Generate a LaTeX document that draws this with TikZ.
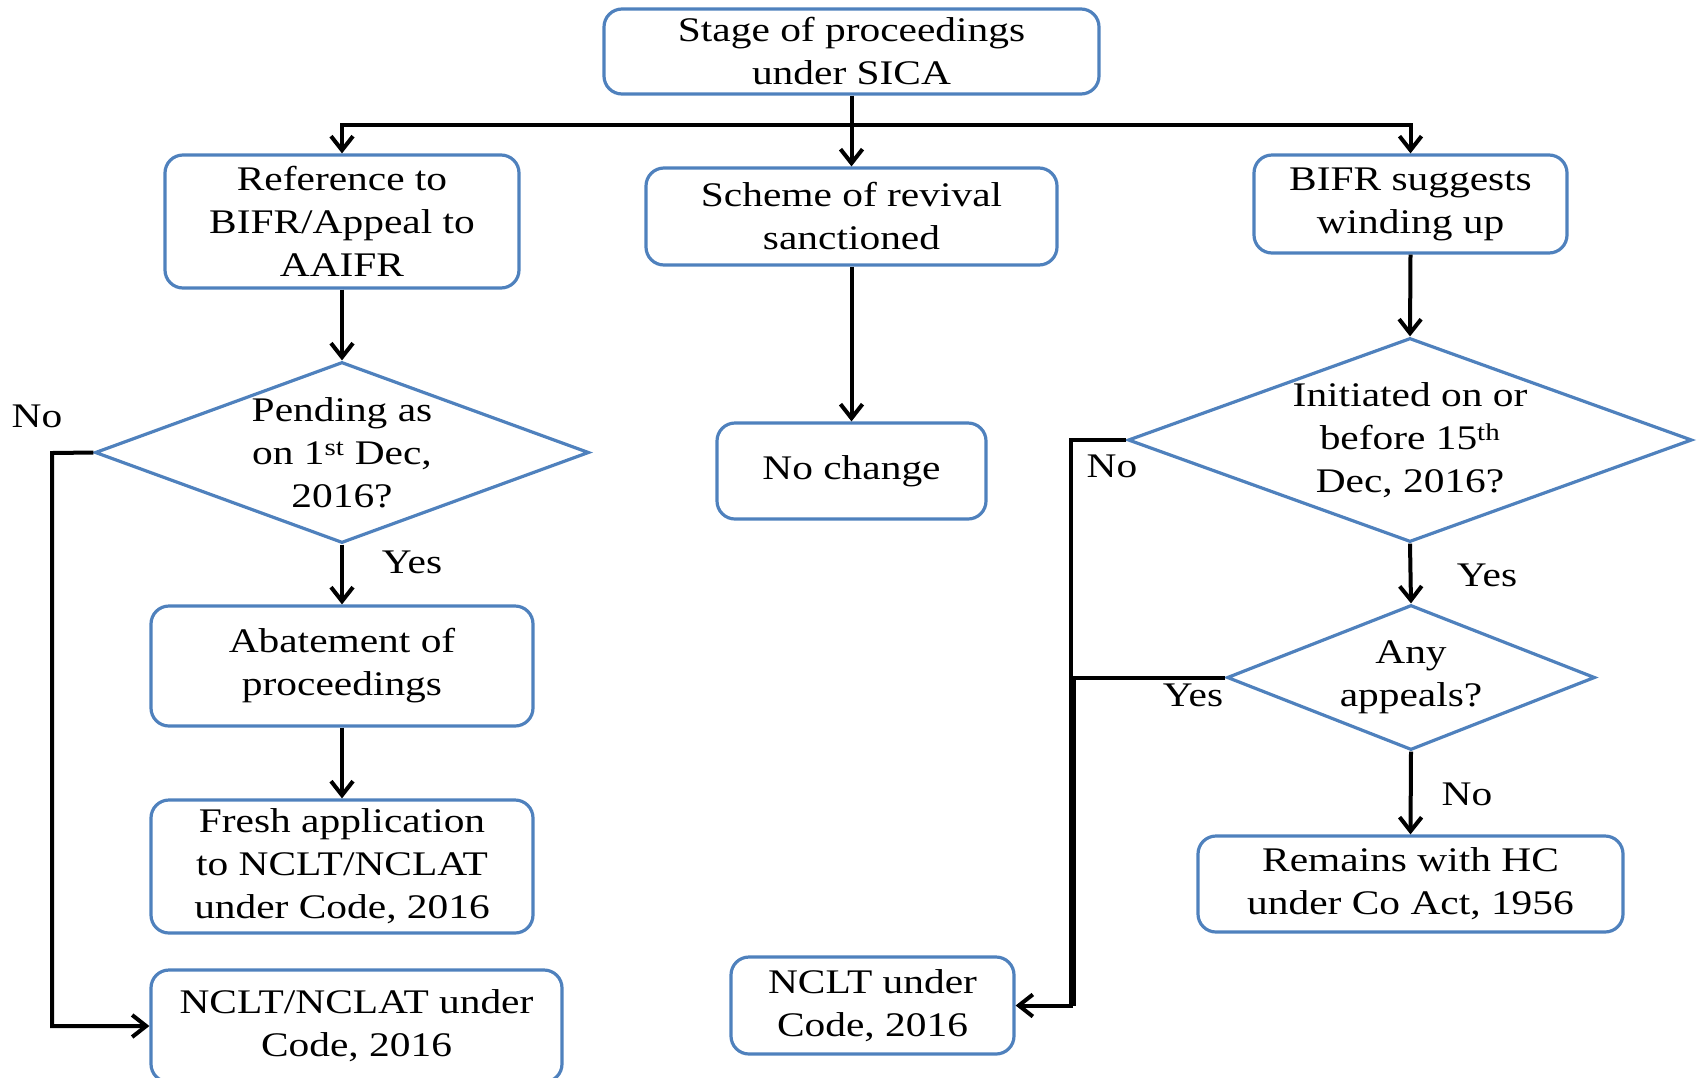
\documentclass[tikz,border=0pt]{standalone}
\usepackage{fontspec}
\setmainfont{Liberation Serif}[FakeStretch=1.2]
\usetikzlibrary{shapes.geometric,arrows.meta}
\definecolor{boxblue}{RGB}{79,129,189}

\begin{document}
\begin{tikzpicture}[x=1pt,y=-1pt,
  every node/.style={font=\fontsize{34.5}{43}\selectfont, align=center, inner sep=0pt},
  procbox/.style={draw=boxblue, line width=3.2pt, rounded corners=18pt},
  decision/.style={draw=boxblue, line width=3.2pt, diamond},
  flow/.style={draw=black, line width=4pt},
  arrow/.style={flow, -{Straight Barb[length=14pt,width=22pt]}},
  tag/.style={anchor=center}
]
\useasboundingbox (0,0) rectangle (1700,1077);

% boxes of the top row
\node[procbox, minimum width=495pt, minimum height=85pt] (stage) at (851.5,51.5) {Stage of proceedings\\under SICA};
\node[procbox, minimum width=354pt, minimum height=133pt] (ref) at (342,221.5) {Reference to\\BIFR/Appeal to\\AAIFR};
\node[procbox, minimum width=411pt, minimum height=97pt] (scheme) at (851.5,216.5) {Scheme of revival\\sanctioned};
\node[procbox, minimum width=313pt, minimum height=98pt] (bifr) at (1410.5,204) {BIFR suggests\\winding up};

% decisions
\node[decision, minimum width=494pt, minimum height=181pt] (pend) at (342,452.5) {};
\node (pendtxt) at (pend.center) {Pending as\\on 1\textsuperscript{st} Dec,\\2016?};
\node[decision, minimum width=564pt, minimum height=204pt] (init) at (1410,440) {};
\node (inittxt) at (init.center) {Initiated on or\\before 15\textsuperscript{th}\\Dec, 2016?};
\node[decision, minimum width=368pt, minimum height=145pt] (appeals) at (1411,677.5) {};
\node (appealstxt) at (appeals.center) {Any\\appeals?};

% outcome boxes
\node[procbox, minimum width=269pt, minimum height=96pt] (nochange) at (851.5,471) {No change};
\node[procbox, minimum width=382pt, minimum height=120pt] (abate) at (342,666) {Abatement of\\proceedings};
\node[procbox, minimum width=382pt, minimum height=133pt] (fresh) at (342,866.5) {Fresh application\\to NCLT/NCLAT\\under Code, 2016};
\node[procbox, minimum width=411pt, minimum height=112pt] (ncltL) at (356.5,1026) {NCLT/NCLAT under\\Code, 2016};
\node[procbox, minimum width=425pt, minimum height=96pt] (remains) at (1410.5,884) {Remains with HC\\under Co Act, 1956};
\node[procbox, minimum width=283pt, minimum height=97pt] (ncltR) at (872.5,1005.5) {NCLT under\\Code, 2016};

% distribution bus under the first box
\coordinate (bus) at (851.5,125);
\draw[flow] (stage.south) -- (bus);
\draw[arrow] (bus) -| (ref.north);
\draw[arrow] (bus) -| (bifr.north);
\draw[arrow] (bus) -- (scheme.north);

% left branch
\draw[arrow] (ref.south) -- (pend.north);
\draw[arrow] (pend.south) -- (abate.north);
\draw[arrow] (abate.south) -- (fresh.north);
\coordinate (leftrail) at (52,453);
\draw[arrow] (pend.west) -- (leftrail) |- (ncltL.west);

% middle branch
\draw[arrow] (scheme.south) -- (nochange.north);

% right branch
\draw[arrow] (bifr.south) -- (init.north);
\draw[arrow] (init.south) -- (appeals.north);
\draw[arrow] (appeals.south) -- (remains.north);
\coordinate (rightrail) at (1071,440);
\coordinate (apprail) at (1074,677.5);
\draw[arrow] (init.west) -- (rightrail) |- (ncltR.east);
\draw[flow] (appeals.west) -- (apprail) -- (apprail |- ncltR.east);

% branch labels
\node[tag] (noL) at (37,416) {No};
\node[tag] (yesL) at (412,562) {Yes};
\node[tag] (noInit) at (1112,466) {No};
\node[tag] (yesInit) at (1487,575) {Yes};
\node[tag] (yesApp) at (1193,695) {Yes};
\node[tag] (noApp) at (1467,794) {No};
\end{tikzpicture}
\end{document}
